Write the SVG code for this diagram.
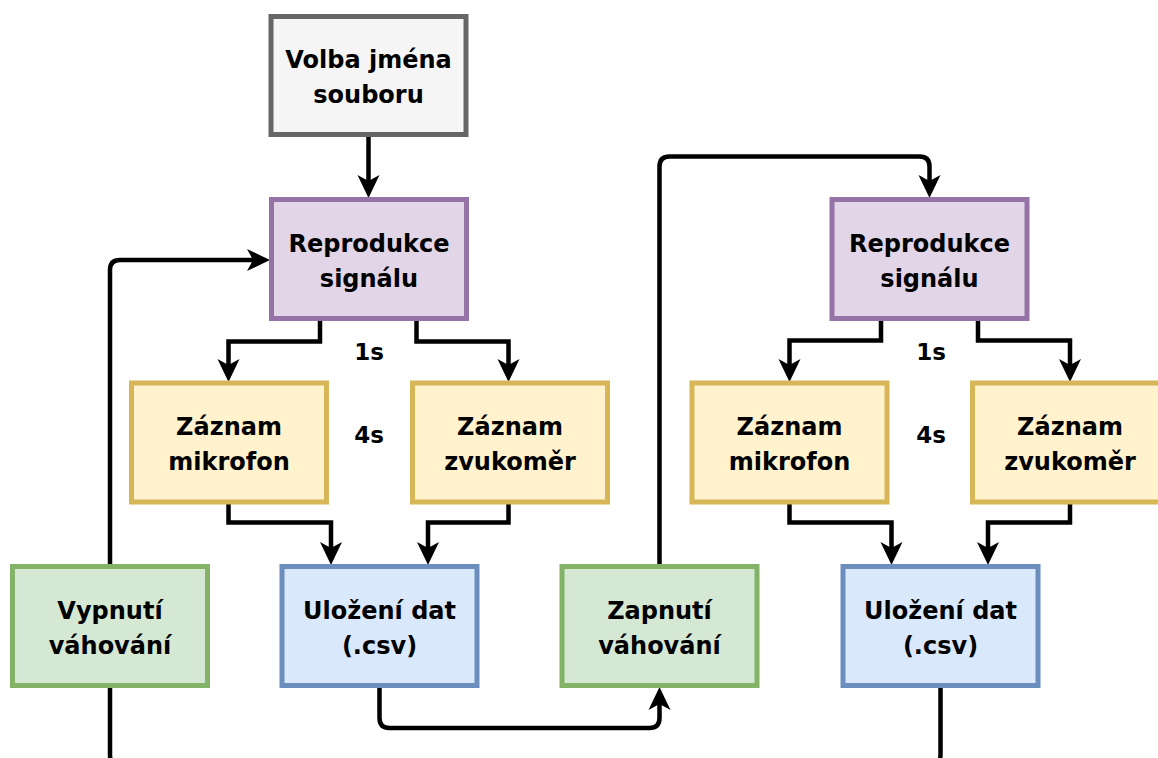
<svg xmlns="http://www.w3.org/2000/svg" width="1158" height="758" viewBox="0 0 1158 758">
<style>
.n rect{stroke-width:5}
.gray rect{fill:#f5f5f5;stroke:#666666}
.purple rect{fill:#e1d5e7;stroke:#9673a6}
.yellow rect{fill:#fff2cc;stroke:#d6b656}
.green rect{fill:#d5e8d4;stroke:#82b366}
.blue rect{fill:#dae8fc;stroke:#6c8ebf}
text{font-family:"DejaVu Sans","Liberation Sans",sans-serif;font-weight:bold;font-size:24px;fill:#000;text-anchor:middle}
.lbl{font-size:23px}
#connectors path{fill:none;stroke:#000;stroke-width:4.5}
.arr{marker-end:url(#ah)}
</style>
<defs>
<marker id="ah" markerUnits="userSpaceOnUse" viewBox="-10 -13 30 26" refX="0" refY="0" markerWidth="30" markerHeight="26" orient="auto">
<path d="M16,0 L-7,-11 L-1,0 L-7,11 Z" fill="#000"/>
</marker>
</defs>
<rect width="1158" height="758" fill="#ffffff"/>
<g id="connectors">
<path class="arr" d="M368.5,137 V182"/>
<path class="arr" d="M320,321 V341.5 H228.5 V366"/>
<path class="arr" d="M416.5,321 V341.5 H508.5 V366"/>
<path class="arr" d="M228.5,504 V522.5 H331 V549"/>
<path class="arr" d="M508.5,504 V522.5 H428 V549"/>
<path class="arr" d="M110,564 V270 Q110,260 120,260 H254"/>
<path class="arr" d="M379.5,687 V718 Q379.5,728 389.5,728 H649.5 Q659.5,728 659.5,718 V703"/>
<path class="arr" d="M659.5,564 V166.5 Q659.5,156.5 669.5,156.5 H919.5 Q929.5,156.5 929.5,166.5 V182"/>
<path class="arr" d="M881,321 V340.5 H789.5 V366"/>
<path class="arr" d="M978,321 V340.5 H1070 V366"/>
<path class="arr" d="M789.5,504 V522.5 H891.5 V549"/>
<path class="arr" d="M1070,504 V522.5 H988 V549"/>
<path d="M940.5,687 V755 Q940.5,765 930.5,765 H120 Q110,765 110,755 V687"/>
</g>
<g id="volba" class="n gray"><rect x="271" y="16.5" width="195" height="118"/><text x="368.5" y="68">Volba jména</text><text x="368.5" y="103">souboru</text></g>
<g id="repro1" class="n purple"><rect x="271.5" y="199.5" width="195" height="119"/><text x="369" y="252">Reprodukce</text><text x="369" y="287">signálu</text></g>
<g id="mik1" class="n yellow"><rect x="131.5" y="383" width="195" height="119"/><text x="229" y="435">Záznam</text><text x="229" y="470">mikrofon</text></g>
<g id="zvuk1" class="n yellow"><rect x="412.5" y="383" width="195" height="119"/><text x="510" y="435">Záznam</text><text x="510" y="470">zvukoměr</text></g>
<g id="vypnuti" class="n green"><rect x="12.5" y="566.5" width="195" height="119"/><text x="110" y="619">Vypnutí</text><text x="110" y="654">váhování</text></g>
<g id="ulozeni1" class="n blue"><rect x="282" y="566.5" width="195" height="119"/><text x="379.5" y="619">Uložení dat</text><text x="379.5" y="654">(.csv)</text></g>
<g id="zapnuti" class="n green"><rect x="562" y="566.5" width="195" height="119"/><text x="659.5" y="619">Zapnutí</text><text x="659.5" y="654">váhování</text></g>
<g id="repro2" class="n purple"><rect x="832" y="199.5" width="195" height="119"/><text x="929.5" y="252">Reprodukce</text><text x="929.5" y="287">signálu</text></g>
<g id="mik2" class="n yellow"><rect x="692" y="383" width="195" height="119"/><text x="789.5" y="435">Záznam</text><text x="789.5" y="470">mikrofon</text></g>
<g id="zvuk2" class="n yellow"><rect x="972.5" y="383" width="195" height="119"/><text x="1070" y="435">Záznam</text><text x="1070" y="470">zvukoměr</text></g>
<g id="ulozeni2" class="n blue"><rect x="843" y="566.5" width="195" height="119"/><text x="940.5" y="619">Uložení dat</text><text x="940.5" y="654">(.csv)</text></g>
<g id="labels"><text class="lbl" x="369" y="360">1s</text><text class="lbl" x="369" y="443">4s</text><text class="lbl" x="931" y="360">1s</text><text class="lbl" x="931" y="443">4s</text></g>
</svg>
